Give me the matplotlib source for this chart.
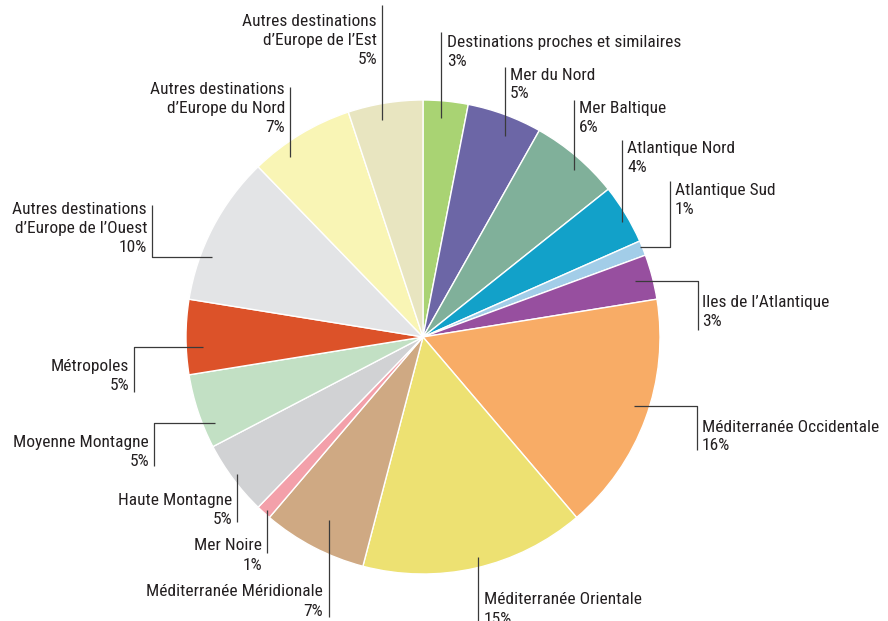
import matplotlib
matplotlib.use("Agg")
import matplotlib.pyplot as plt

# Share of destinations (percent), clockwise from 12 o'clock
categories = [
    "Destinations proches et similaires",
    "Mer du Nord",
    "Mer Baltique",
    "Atlantique Nord",
    "Atlantique Sud",
    "Iles de l\u2019Atlantique",
    "M\u00e9diterran\u00e9e Occidentale",
    "M\u00e9diterran\u00e9e Orientale",
    "M\u00e9diterran\u00e9e M\u00e9ridionale",
    "Mer Noire",
    "Haute Montagne",
    "Moyenne Montagne",
    "M\u00e9tropoles",
    "Autres destinations\nd\u2019Europe de l\u2019Ouest",
    "Autres destinations\nd\u2019Europe du Nord",
    "Autres destinations\nd\u2019Europe de l\u2019Est",
]
values = [3, 5, 6, 4, 1, 3, 16, 15, 7, 1, 5, 5, 5, 10, 7, 5]
colors = [
    "#a9d373", "#6c66a6", "#80b09a", "#12a1c9", "#a2cde8", "#974f9f",
    "#f8ac66", "#ede172", "#cfa983", "#f3a0aa", "#d1d2d4", "#c2e0c4",
    "#dc5229", "#e3e4e6", "#f9f5b5", "#e8e5c0",
]

W, H = 888, 621
fig = plt.figure(figsize=(W / 100, H / 100), dpi=100)
ax = fig.add_axes([0, 0, 1, 1])

cx, cy, r = 423, H - 337, 237
ax.pie(values, colors=colors, startangle=90, counterclock=False,
       center=(cx, cy), radius=r, frame=True,
       wedgeprops=dict(edgecolor="white", linewidth=1.0))
ax.set_xlim(0, W)
ax.set_ylim(0, H)
ax.set_aspect("equal")
ax.axis("off")

# Label placement (screen pixels, y from top): text anchor (centre of the
# first line), alignment, and leader-line polyline
layout = [
    ((447, 42), "left", [(441, 32), (441, 118)]),
    ((510, 75), "left", [(505, 67), (505, 136)]),
    ((579, 108), "left", [(574, 100), (574, 170)]),
    ((627, 148), "left", [(622, 140), (622, 222)]),
    ((675, 190), "left", [(670, 181), (670, 247), (640, 247)]),
    ((702, 302), "left", [(635, 281), (698, 281), (698, 330)]),
    ((702, 427), "left", [(634, 406), (697, 406), (697, 450)]),
    ((484, 600), "left", [(478, 557), (478, 630)]),
    ((323, 592), "right", [(329, 520), (329, 617)]),
    ((262, 546), "right", [(267, 510), (267, 553)]),
    ((232, 501), "right", [(237, 474), (237, 522)]),
    ((149, 442), "right", [(215, 423), (154, 423), (154, 466)]),
    ((129, 366), "right", [(203, 347), (134, 347), (134, 392)]),
    ((147, 209), "right", [(152, 205), (152, 257), (212, 257)]),
    ((285, 90), "right", [(290, 87), (290, 157)]),
    ((377, 22), "right", [(382, 5), (382, 120)]),
]

font = ["Roboto Condensed", "Archivo Narrow", "DejaVu Sans"]
text_color = "#231f20"
line_color = "#3a3a3a"
line_step = 19  # pixels between text lines

for name, val, ((tx, ty), ha, pts) in zip(categories, values, layout):
    xs = [p[0] for p in pts]
    ys = [H - p[1] for p in pts]
    ax.plot(xs, ys, color=line_color, linewidth=0.9, solid_capstyle="butt")
    lines = name.split("\n") + [f"{val}%"]
    for i, s in enumerate(lines):
        ax.text(tx, H - (ty + i * line_step), s, ha=ha, va="center",
                fontsize=12.5, family=font, color=text_color)

fig.savefig("out.png", dpi=100, facecolor="white")
